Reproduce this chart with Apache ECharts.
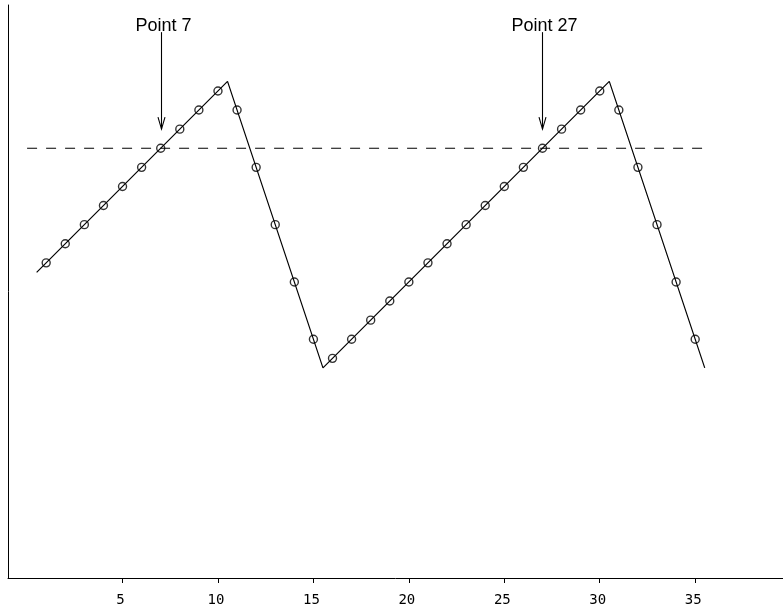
<!DOCTYPE html>
<html>
<head>
<meta charset="utf-8">
<script src="https://cdn.jsdelivr.net/npm/echarts@6/dist/echarts.min.js"></script>
<style>
  html, body { margin: 0; padding: 0; background: #fff; }
  #chart { width: 783px; height: 613px; }
</style>
</head>
<body>
<div id="chart"></div>
<script>
// sawtooth outline (vertices)
var lineX = [0.5, 10.5, 15.5, 30.5, 35.5];
var lineY = [0.5, 10.5, -4.5, 10.5, -4.5];

// circle markers at each integer point
var markerX = [1, 2, 3, 4, 5, 6, 7, 8, 9, 10, 11, 12, 13, 14, 15, 16, 17, 18,
               19, 20, 21, 22, 23, 24, 25, 26, 27, 28, 29, 30, 31, 32, 33, 34, 35];
var markerY = [1, 2, 3, 4, 5, 6, 7, 8, 9, 10, 9, 6, 3, 0, -3, -4, -3, -2,
               -1, 0, 1, 2, 3, 4, 5, 6, 7, 8, 9, 10, 9, 6, 3, 0, -3];

// horizontal dashed reference line
var refX = [0, 35.5];
var refY = [7, 7];

// annotations
var annotX = [7, 27];
var annotY = [8, 8];
var annotLabel = ['Point 7', 'Point 27'];

var xTicks = [5, 10, 15, 20, 25, 30, 35];

var chart = echarts.init(document.getElementById('chart'));

var option = {
    animation: false,
    backgroundColor: '#fff',
    grid: { left: 8, right: 0, top: 5, bottom: 35 },
    xAxis: {
        type: 'value',
        min: -1,
        max: 39.6,
        axisLine: { show: true, onZero: false, lineStyle: { color: '#000', width: 1 } },
        axisTick: { show: true, length: 5, customValues: xTicks, lineStyle: { color: '#000' } },
        axisLabel: {
            customValues: xTicks,
            color: '#000',
            fontFamily: 'DejaVu Sans Mono',
            fontSize: 14,
            margin: 15,
            padding: [0, 4, 0, 0]
        },
        splitLine: { show: false }
    },
    yAxis: {
        type: 'value',
        min: -15.5,
        max: 14.5,
        axisLine: { show: true, onZero: false, lineStyle: { color: '#000', width: 1 } },
        axisTick: { show: false },
        axisLabel: { show: false },
        splitLine: { show: false }
    },
    series: [
        {
            name: 'outline',
            type: 'line',
            data: lineX.map(function (x, i) { return [x, lineY[i]]; }),
            symbol: 'none',
            lineStyle: { color: '#000', width: 1.2 }
        },
        {
            name: 'points',
            type: 'scatter',
            data: markerX.map(function (x, i) { return [x, markerY[i]]; }),
            symbol: 'circle',
            symbolSize: 8,
            itemStyle: { color: 'rgba(0,0,0,0)', borderColor: '#000', borderWidth: 1.4 }
        },
        {
            name: 'threshold',
            type: 'line',
            data: refX.map(function (x, i) { return [x, refY[i]]; }),
            symbol: 'none',
            lineStyle: { color: '#000', width: 1.1, type: [10, 9] }
        },
        {
            name: 'notes',
            type: 'custom',
            data: annotX.map(function (x, i) { return [x, annotY[i]]; }),
            renderItem: function (params, api) {
                var tip = api.coord([api.value(0), api.value(1)]);
                var x = Math.round(tip[0]) + 0.5, y = tip[1];
                var top = y - 97;
                return {
                    type: 'group',
                    children: [
                        { type: 'line', shape: { x1: x, y1: top, x2: x, y2: y },
                          style: { stroke: '#000', lineWidth: 1.1 } },
                        { type: 'polyline', shape: { points: [[x - 3.5, y - 12], [x, y], [x + 3.5, y - 12]] },
                          style: { stroke: '#000', fill: null, lineWidth: 1.1 } },
                        { type: 'text',
                          style: { text: annotLabel[params.dataIndex], x: x + 2, y: top + 3,
                                   align: 'center', verticalAlign: 'bottom',
                                   font: '18px "Liberation Sans"', fill: '#000' } }
                    ]
                };
            }
        }
    ]
};

chart.setOption(option);
</script>
</body>
</html>
